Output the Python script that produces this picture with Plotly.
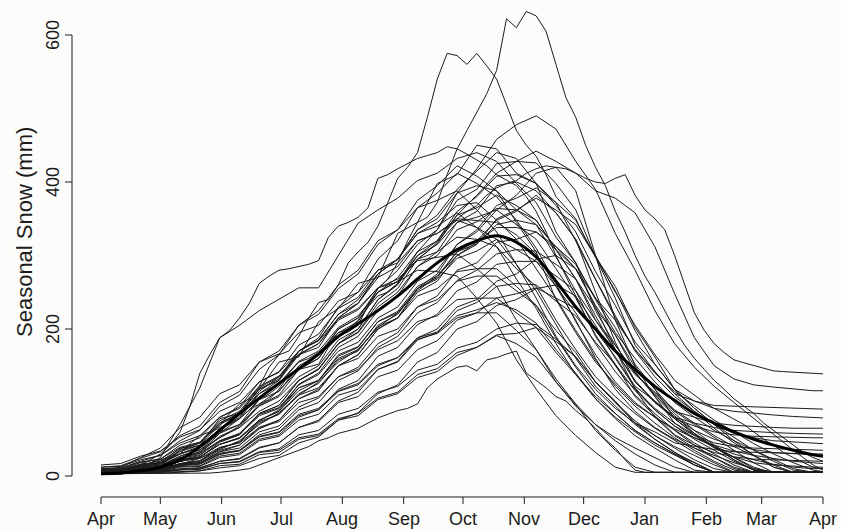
import plotly.graph_objects as go

# ---- data: day offset from 1 April, seasonal snow (mm) ----
days = [0, 10, 20, 30, 40, 50, 60, 70, 80, 90, 100, 110, 120, 130, 140, 150, 160, 170, 180, 190,
        200, 210, 220, 230, 240, 250, 260, 270, 280, 290, 300, 310, 320, 330, 340, 350, 360, 365]
days_fine = list(range(0, 365, 5)) + [365]   # 5-day sampling for the outlying years

month_labels = ["Apr", "May", "Jun", "Jul", "Aug", "Sep", "Oct", "Nov", "Dec", "Jan", "Feb", "Mar", "Apr"]
month_days = [0, 30, 61, 91, 122, 153, 183, 214, 244, 275, 306, 334, 365]
y_ticks = [0, 200, 400, 600]

# outlying years, 5-day samples
yr_a = [5,5,6,9,12,14,20,28,38,40, 45,58,66,70,78,90,98,104,118,138,
        145,148,152,175,190,196,205,232,255,268, 290,320,345,352,372,410,445,470,495,520,
        552,622,610,632,626,605,560,515,488,450, 420,395,360,332,300,272,250,225,200,178,
        160,145,130,118,105,95,85,72,62,52, 42,32,25,20]
yr_b = [5,6,9,10,11,18,22,25,30,44, 55,60,68,85,98,105,122,148,165,170,
        190,215,236,240,260,290,305,318,340,372, 405,420,440,488,540,575,572,560,575,558,
        540,505,470,450,435,410,380,365,350,322, 300,275,250,228,205,185,165,148,130,120,
        110,100,92,85,78,70,60,50,42,32, 25,18,12,10]
yr_d = [5,6,8,10,15,22,30,42,60,95, 140,165,188,198,215,235,262,272,280,282,
        285,288,293,325,340,345,352,365,405,410, 418,425,432,436,440,448,445,438,430,422,
        410,402,395,380,360,332,300,272,245,218, 190,170,150,132,118,105,92,82,72,62,
        55,48,40,32,25,18,12,8,5,5, 5,5,5,5]
yr_f = [5,5,5,7,9,10,12,18,24,28, 33,45,58,68,78,90,104,112,122,140,
        155,160,168,182,195,200,212,230,245,250, 262,280,295,305,318,335,350,360,368,382,
        392,398,402,412,418,422,420,418,412,405, 400,398,405,410,382,362,350,335,300,260,
        222,198,180,168,158,154,150,146,143,142, 141,140,139,139]
yr_low = [3,3,3,3,3,3,3,3,3,3, 4,4,5,6,8,10,15,20,25,30,
          35,40,48,52,58,62,65,72,79,84, 89,92,98,120,132,140,148,150,143,158,
          161,166,170,140,130,120,108,102,89,78, 65,50,38,22,8,5,5,5,5,5,
          5,5,5,5,5,5,5,5,5,5, 5,5,5,5]

# remaining years, 10-day samples
yr_e = [5,6,10,25,70,120,188,205,225,240,256,256,300,344,362,378,402,412,432,440,
        428,398,372,325,290,240,195,160,128,100,80,62,48,35,22,10,5,5]
yr_c = [5,8,14,16,30,38,58,70,95,108,135,150,185,200,240,262,305,335,385,418,
        458,478,490,472,428,390,330,280,225,180,148,122,100,78,56,35,15,8]
yr_g = [3,5,9,14,27,36,52,66,88,102,130,146,180,196,235,255,295,316,355,382,
        412,428,442,428,412,388,378,358,312,248,188,150,132,124,121,118,116,116]
yr_07 = [4,5,12,14,35,42,78,85,118,155,162,210,228,262,270,330,345,398,410,450,
         445,412,398,332,290,225,178,140,112,88,70,52,35,18,5,5,5,5]
yr_08 = [8,9,16,18,30,40,64,80,115,135,165,175,215,235,275,295,335,355,390,415,
         440,432,398,372,320,268,215,172,140,115,95,76,60,44,30,18,8,6]
yr_09 = [5,6,11,13,24,33,52,68,98,116,145,160,200,215,255,280,315,335,375,390,
         425,428,426,398,362,298,242,178,142,112,102,96,95,94,93,92,91,91]
yr_10 = [10,11,20,28,48,62,95,110,145,165,205,220,255,275,315,335,375,395,422,408,
         388,345,305,240,195,155,125,98,80,62,45,30,15,5,5,5,5,5]
yr_11 = [5,5,9,11,22,28,48,58,85,96,130,145,180,200,240,260,300,320,360,380,
         408,410,398,368,332,278,232,182,152,118,102,92,88,85,83,81,79,79]
yr_12 = [3,4,8,9,17,20,38,46,75,90,125,140,175,190,225,245,285,305,345,360,
         395,400,388,358,322,268,218,170,135,108,88,70,52,35,20,8,5,5]
yr_13 = [6,7,14,18,35,45,72,86,118,130,165,180,215,235,275,295,335,350,385,395,
         388,362,342,298,252,198,162,122,102,80,72,66,62,60,59,58,57,57]
yr_14 = [4,4,7,8,14,18,33,42,66,76,105,118,150,165,200,215,255,275,315,335,
         368,378,392,372,348,298,252,198,152,118,92,70,48,28,12,5,5,5]
yr_15 = [12,14,24,33,55,68,100,115,155,170,205,225,260,280,320,335,365,375,388,362,
         332,288,242,190,150,118,92,72,55,40,28,15,5,5,5,5,5,5]
yr_16 = [5,6,10,13,25,31,54,66,96,110,145,160,195,210,250,270,305,320,355,365,
         382,368,348,308,268,212,172,128,102,78,68,60,56,54,53,52,52,52]
yr_17 = [4,4,7,8,16,20,35,42,64,76,105,116,150,165,200,215,250,265,300,315,
         350,362,378,362,342,298,258,202,162,118,92,70,58,52,48,46,44,44]
yr_18 = [7,8,15,18,33,42,70,84,118,132,170,185,220,240,275,295,330,345,368,372,
         348,322,282,242,198,158,122,95,72,52,35,20,8,5,5,5,5,5]
yr_19 = [5,5,9,11,20,25,46,56,85,96,130,145,180,195,230,250,285,300,335,346,
         364,362,348,308,268,218,170,130,100,78,58,40,22,8,5,5,5,5]
yr_20 = [6,6,12,14,27,35,60,70,104,115,150,165,200,215,250,265,300,315,345,352,
         362,342,322,282,242,192,152,108,82,56,42,32,26,23,22,21,20,20]
yr_21 = [9,10,18,23,42,52,80,94,128,142,178,193,228,243,280,295,330,340,358,338,
         312,268,228,180,138,105,80,60,42,28,15,5,5,5,5,5,5,5]
yr_22 = [5,5,8,9,17,21,38,46,72,84,112,126,158,170,205,220,255,270,305,316,
         342,348,342,312,282,232,192,142,108,72,56,45,40,38,37,36,35,35]
yr_23 = [8,9,16,20,37,46,75,88,120,135,170,185,220,235,270,285,320,330,348,338,
         322,288,252,205,160,122,95,70,50,32,18,5,5,5,5,5,5,5]
yr_24 = [5,6,8,12,16,24,36,48,70,86,110,128,155,172,202,222,252,272,300,318,
         338,338,332,308,282,242,212,172,142,112,88,65,45,28,12,5,5,5]
yr_25 = [4,4,8,9,16,18,33,38,60,68,94,106,135,148,180,195,230,245,280,290,
         318,322,332,312,288,242,202,152,118,78,56,38,26,18,15,13,12,12]
yr_26 = [10,11,19,23,39,46,72,84,112,126,156,170,202,218,250,265,295,305,325,322,
         312,282,258,212,172,135,108,85,65,48,32,18,5,5,5,5,5,5]
yr_27 = [6,6,10,12,21,26,43,52,76,88,116,130,163,175,210,222,255,268,296,306,
         322,308,292,258,222,180,142,110,85,62,42,25,10,5,5,5,5,5]
yr_28 = [5,5,7,7,14,16,29,35,56,64,90,100,130,143,175,190,222,236,266,280,
         302,308,306,288,268,228,192,148,118,88,80,72,69,67,66,65,65,65]
yr_29 = [12,13,22,28,45,55,80,92,122,136,166,180,212,226,256,268,293,298,302,282,
         258,212,172,128,95,70,52,38,25,12,5,5,5,5,5,5,5,5]
yr_30 = [4,4,7,7,13,14,27,31,50,56,80,90,118,130,163,175,206,220,252,264,
         288,292,292,272,252,212,178,140,110,85,62,42,25,10,5,5,5,5]
yr_31 = [7,7,12,15,25,31,48,57,82,92,120,130,160,172,203,215,245,255,278,282,
         282,258,232,188,148,112,85,62,45,30,15,5,5,5,5,5,5,5]
yr_32 = [6,6,11,13,22,26,43,51,74,84,110,120,150,160,190,200,230,240,265,272,
         272,252,232,198,168,128,102,72,60,45,40,36,33,32,31,30,30,30]
yr_33 = [3,3,6,6,12,13,25,29,48,54,76,84,110,118,145,155,185,195,225,236,
         258,262,260,238,218,182,152,116,90,68,50,35,20,8,5,5,5,5]
yr_34 = [3,3,4,5,9,11,20,24,39,45,66,74,100,108,135,144,172,184,212,222,
         242,248,256,242,228,198,172,138,114,90,72,55,40,28,15,5,5,5]
yr_35 = [5,5,9,11,20,24,39,45,66,74,100,108,135,145,172,184,210,218,240,242,
         242,222,202,168,138,108,85,62,45,30,18,5,5,5,5,5,5,5]
yr_36 = [4,4,7,8,15,17,30,34,53,59,82,90,115,124,150,161,188,196,218,226,
         236,226,208,172,140,105,78,55,38,22,8,5,5,5,5,5,5,5]
yr_37 = [5,5,8,9,16,18,31,35,54,60,84,92,116,126,152,161,186,194,215,222,
         222,198,172,132,98,70,48,30,15,5,5,5,5,5,5,5,5,5]
yr_38 = [3,3,4,5,8,9,17,20,33,37,56,62,84,92,114,122,144,152,174,182,
         200,208,206,186,162,128,100,75,55,38,22,10,5,5,5,5,5,5]
yr_39 = [3,3,4,5,6,7,14,16,29,32,50,55,76,82,104,112,134,142,164,175,
         191,180,162,128,97,62,35,12,5,5,5,5,5,5,5,5,5,5]
yr_41 = [3,3,5,6,9,10,17,19,32,35,52,57,78,85,106,114,138,146,168,175,
         192,194,202,183,162,128,100,72,50,32,15,5,5,5,5,5,5,5]
yr_42 = [15,17,27,34,53,63,88,100,128,141,170,184,214,228,256,264,280,278,272,242,
         208,158,118,82,55,32,12,5,5,5,5,5,5,5,5,5,5,5]
yr_43 = [5,6,11,13,24,29,47,56,84,93,124,138,170,182,215,230,265,280,315,332,
         362,382,412,420,388,300,212,150,108,82,58,40,22,8,5,5,5,5]
yr_44 = [4,5,9,11,20,26,43,52,76,88,120,130,165,176,210,224,258,272,305,320,
         348,360,382,358,322,250,182,128,100,80,62,50,42,36,32,30,29,28]
yr_45 = [3,3,5,6,10,11,20,23,38,45,66,76,102,114,145,156,188,200,230,240,
         265,275,295,300,282,230,172,118,80,55,38,25,12,5,5,5,5,5]
yr_46 = [8,12,25,38,66,80,112,124,155,166,195,205,238,250,280,290,320,330,350,348,
         345,328,302,258,212,160,118,88,66,50,38,28,18,10,5,5,5,5]
yr_47 = [3,3,3,4,5,7,11,14,24,28,45,53,76,86,112,124,155,168,200,210,
         232,240,255,260,245,205,160,120,90,68,52,40,30,22,16,12,10,10]
yr_48 = [6,8,13,17,30,40,64,78,112,130,170,188,230,250,295,320,365,385,412,398,
         380,348,310,262,210,165,128,100,80,64,52,42,34,28,24,20,18,17]

mean_curve = [3,4,7,12,22,40,62,85,106,126,146,166,190,207,225,245,268,290,308,320,
              327,318,298,265,230,200,170,145,122,103,85,72,60,50,42,35,29,27]

fine_years = [yr_a, yr_b, yr_d, yr_f, yr_low]
coarse_years = [yr_e, yr_c, yr_g, yr_07, yr_08, yr_09, yr_10, yr_11, yr_12, yr_13, yr_14,
                yr_15, yr_16, yr_17, yr_18, yr_19, yr_20, yr_21, yr_22, yr_23, yr_24, yr_25,
                yr_26, yr_27, yr_28, yr_29, yr_30, yr_31, yr_32, yr_33, yr_34, yr_35, yr_36,
                yr_37, yr_38, yr_39, yr_41, yr_42, yr_43, yr_44, yr_45, yr_46, yr_47, yr_48]

# ---- pixel geometry (841 x 531 canvas, plot area = whole canvas) ----
W, H = 841, 531
PX_DAY0, PX_PER_DAY = 101.0, 722.0 / 365.0
PX_Y0, PX_PER_MM = 476.0, 0.735

def dx(px):
    return (px - PX_DAY0) / PX_PER_DAY

def dy(py):
    return (PX_Y0 - py) / PX_PER_MM

INK = "#1c1c1c"
FONT = "Liberation Sans, Arial, Helvetica, sans-serif"
FS = 18
FS_TITLE = 22

fig = go.Figure()
for yv in coarse_years:
    fig.add_trace(go.Scatter(x=days, y=yv, mode="lines", hoverinfo="skip",
                             line=dict(color=INK, width=1), showlegend=False))
for yv in fine_years:
    fig.add_trace(go.Scatter(x=days_fine, y=yv, mode="lines", hoverinfo="skip",
                             line=dict(color=INK, width=1), showlegend=False))
fig.add_trace(go.Scatter(x=days, y=mean_curve, mode="lines", hoverinfo="skip",
                         line=dict(color="#000000", width=3, shape="spline", smoothing=1.0),
                         showlegend=False))

shapes = []
annotations = []
# y axis
xa = dx(72)
shapes.append(dict(type="line", xref="x", yref="y", x0=xa, x1=xa, y0=0, y1=600,
                   line=dict(color=INK, width=1)))
for v in y_ticks:
    shapes.append(dict(type="line", xref="x", yref="y", x0=xa, x1=dx(65), y0=v, y1=v,
                       line=dict(color=INK, width=1)))
    annotations.append(dict(x=dx(53), y=v, xref="x", yref="y", text=str(v), showarrow=False,
                            textangle=-90, font=dict(family=FONT, size=FS, color=INK),
                            xanchor="center", yanchor="middle"))
annotations.append(dict(x=dx(24), y=dy(232), xref="x", yref="y", text="Seasonal Snow (mm)",
                        showarrow=False, textangle=-90,
                        font=dict(family=FONT, size=FS_TITLE, color=INK),
                        xanchor="center", yanchor="middle"))
# x axis
ya = dy(497)
shapes.append(dict(type="line", xref="x", yref="y", x0=month_days[0], x1=month_days[-1],
                   y0=ya, y1=ya, line=dict(color=INK, width=1)))
for d, lab in zip(month_days, month_labels):
    shapes.append(dict(type="line", xref="x", yref="y", x0=d, x1=d, y0=ya, y1=dy(504),
                       line=dict(color=INK, width=1)))
    annotations.append(dict(x=d, y=dy(519), xref="x", yref="y", text=lab, showarrow=False,
                            font=dict(family=FONT, size=FS, color=INK),
                            xanchor="center", yanchor="middle"))

fig.update_layout(
    width=W, height=H, autosize=False,
    margin=dict(l=0, r=0, t=0, b=0, pad=0),
    paper_bgcolor="#fcfcfa", plot_bgcolor="#fcfcfa",
    xaxis=dict(range=[dx(0), dx(W)], visible=False, fixedrange=True),
    yaxis=dict(range=[dy(H), dy(0)], visible=False, fixedrange=True),
    shapes=shapes, annotations=annotations,
)

fig.write_html("out.html", config={"displayModeBar": False},
               post_script="document.body.style.margin='0';document.body.style.overflow='hidden';")
